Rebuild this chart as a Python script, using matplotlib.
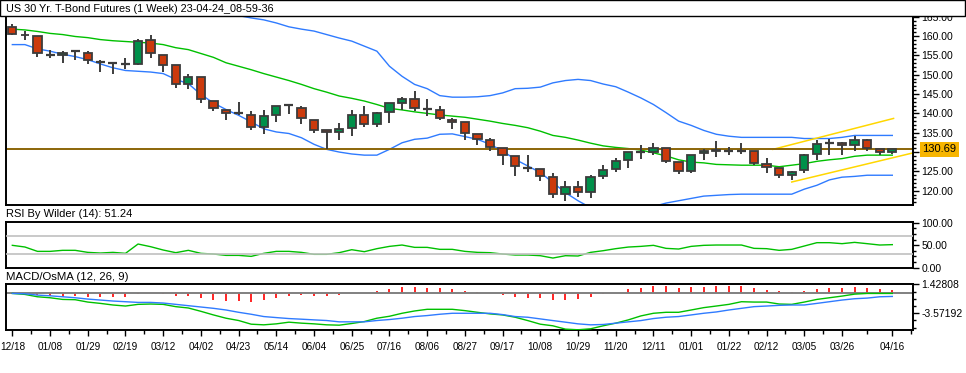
import numpy as np
import matplotlib
matplotlib.use('Agg')
from matplotlib import pyplot as plt
from matplotlib.patches import Rectangle
from matplotlib.ticker import MultipleLocator, FuncFormatter, FixedLocator

plt.rcParams['font.family'] = ['Liberation Sans', 'DejaVu Sans']

title = 'US 30 Yr. T-Bond Futures (1 Week) 23-04-24_08-59-36'
last_price = 130.69

# weekly candles
opens = [162.4, 160.3, 159.9, 155.2, 155.1, 156.1, 155.7, 153.3, 153.0, 152.9,
         152.8, 159.1, 155.2, 152.4, 147.5, 149.5, 143.3, 141.0, 140.0, 139.7,
         136.6, 139.5, 142.1, 141.5, 138.4, 135.6, 135.1, 136.1, 139.5, 137.2,
         140.3, 142.8, 143.6, 141.1, 140.8, 138.4, 137.7, 134.6, 133.0, 131.0,
         128.9, 126.0, 125.5, 123.5, 119.1, 120.9, 119.6, 123.7, 125.5, 127.9,
         129.9, 129.9, 131.0, 127.4, 125.0, 129.7, 130.2, 130.4, 130.4, 130.2,
         126.8, 125.8, 124.0, 125.3, 129.4, 132.3, 132.3, 131.7, 133.0, 130.7,
         129.9]
highs = [163.2, 161.2, 159.9, 156.5, 156.1, 156.4, 156.2, 153.8, 153.1, 154.4,
         159.3, 160.2, 155.2, 152.4, 150.1, 149.5, 143.3, 141.0, 142.9, 140.6,
         140.9, 141.8, 142.1, 141.9, 138.4, 135.6, 137.4, 141.0, 141.9, 140.3,
         142.6, 144.2, 145.8, 143.7, 141.9, 138.7, 137.7, 134.6, 133.6, 131.0,
         128.9, 129.2, 125.5, 124.5, 122.4, 122.4, 124.0, 126.6, 128.4, 129.9,
         131.7, 132.3, 131.0, 127.4, 129.2, 130.7, 132.9, 131.2, 132.3, 130.2,
         128.4, 125.8, 125.0, 129.4, 133.0, 133.3, 132.5, 134.1, 133.3, 130.7,
         130.69]
lows = [160.3, 159.1, 154.6, 154.4, 153.1, 153.9, 152.8, 150.7, 150.3, 151.5,
        152.5, 154.3, 150.7, 146.6, 146.2, 142.7, 140.6, 138.4, 139.6, 135.8,
        134.7, 137.8, 139.9, 137.3, 135.0, 130.7, 133.2, 134.2, 136.6, 136.6,
        137.6, 140.8, 140.5, 139.4, 138.2, 135.9, 133.0, 131.9, 130.4, 126.7,
        123.7, 124.9, 122.6, 118.0, 117.4, 118.4, 118.0, 122.9, 124.9, 126.0,
        128.3, 129.2, 127.1, 124.2, 124.7, 127.9, 128.6, 129.2, 129.4, 126.7,
        124.5, 123.4, 122.7, 124.5, 128.0, 129.2, 129.2, 130.2, 130.4, 129.2,
        129.6]
closes = [160.6, 160.2, 155.5, 155.2, 155.7, 156.1, 153.7, 153.3, 153.0, 152.9,
          158.8, 155.5, 152.6, 147.5, 149.5, 143.6, 141.3, 140.2, 140.0, 136.6,
          139.3, 141.8, 142.1, 138.7, 135.8, 135.1, 135.9, 139.5, 137.2, 140.0,
          142.6, 143.6, 141.5, 141.1, 138.7, 137.9, 134.8, 133.3, 131.2, 129.2,
          126.3, 126.0, 123.7, 119.1, 120.9, 119.6, 123.5, 125.3, 127.6, 129.9,
          129.9, 131.0, 127.6, 125.0, 129.2, 130.2, 130.6, 130.4, 130.4, 127.1,
          126.1, 124.0, 124.8, 129.2, 132.0, 132.3, 131.7, 133.0, 131.0, 129.9,
          130.69]

# bollinger bands (20)
bb_mid = [161.8, 161.6, 161.2, 160.7, 160.4, 159.9, 159.6, 159.1, 158.8, 158.6,
          158.4, 158.2, 157.8, 157.0, 156.5, 155.5, 154.5, 153.1, 152.2, 151.3,
          150.3, 149.4, 148.5, 147.5, 146.4, 145.5, 144.5, 143.9, 143.2, 142.3,
          141.3, 140.9, 140.4, 140.0, 139.6, 139.3, 139.0, 138.5, 138.0, 137.4,
          136.9, 136.3, 135.4, 134.3, 133.8, 133.1, 132.3, 131.6, 131.2, 130.9,
          130.5, 129.8, 129.0, 128.0, 127.4, 127.2, 126.8, 126.7, 126.6, 126.6,
          126.6, 126.2, 126.6, 127.0, 127.6, 128.0, 128.3, 128.9, 129.2, 129.2,
          129.2]
bb_up = [172.5, 172.2, 171.9, 171.5, 171.1, 170.7, 170.3, 169.9, 169.6, 169.3,
         169.0, 168.7, 168.4, 168.0, 167.5, 167.0, 166.5, 166.0, 165.3, 164.7,
         164.2, 163.4, 162.4, 161.8, 161.3, 160.4, 159.5, 158.7, 157.4, 156.1,
         152.2, 149.6, 147.5, 146.4, 144.6, 144.2, 144.2, 144.3, 144.6, 145.3,
         146.4, 146.5, 146.8, 147.9, 148.5, 148.8, 148.5, 147.6, 146.9, 145.5,
         144.0, 142.3, 140.2, 138.0, 136.9, 135.6, 134.6, 134.1, 133.8, 133.8,
         133.8, 133.8, 133.8, 133.5, 133.5, 133.5, 133.8, 134.3, 134.3, 134.3,
         134.3]
bb_low = [157.8, 157.8, 156.7, 156.1, 155.3, 154.7, 153.9, 152.8, 151.8, 151.1,
          150.9, 150.7, 150.3, 148.8, 147.7, 144.9, 142.7, 141.0, 139.5, 137.8,
          136.0, 135.2, 134.8, 133.7, 132.0, 130.7, 130.0, 129.5, 129.2, 129.2,
          130.7, 132.4, 133.3, 133.6, 134.6, 134.7, 134.0, 133.3, 132.0, 130.3,
          128.1, 126.4, 124.7, 122.1, 119.5, 117.4, 115.6, 114.6, 114.2, 114.3,
          115.0, 115.9, 116.8, 117.4, 118.0, 118.6, 118.8, 119.0, 119.1, 119.1,
          119.1, 119.1, 119.1, 120.4, 121.4, 122.8, 123.5, 123.7, 124.0, 124.0,
          124.0]

# channel lines drawn by hand: (bar, price) end points
chan_upper = [(60.5, 130.69), (70.1, 138.7)]
chan_lower = [(62.0, 122.25), (71.67, 129.8)]

rsi = [49.7, 46.0, 36.3, 36.3, 38.6, 38.6, 34.1, 32.6, 34.1, 31.9,
       52.6, 46.7, 39.3, 33.4, 38.6, 31.9, 30.4, 27.4, 27.4, 25.2,
       31.9, 36.3, 36.3, 34.1, 29.7, 29.7, 33.4, 40.0, 35.6, 42.3,
       47.4, 50.4, 45.2, 45.2, 40.8, 40.8, 36.3, 34.1, 33.4, 30.4,
       28.2, 28.2, 26.7, 21.5, 26.7, 26.0, 34.1, 37.8, 42.3, 45.9,
       47.4, 49.7, 43.0, 41.5, 47.4, 49.7, 50.4, 50.4, 50.4, 43.0,
       42.3, 38.6, 40.8, 48.2, 55.6, 55.6, 53.4, 56.3, 53.4, 50.4,
       51.24]

macd = [-0.14, -0.31, -0.72, -0.89, -1.18, -1.23, -1.64, -1.87, -2.15, -2.33,
        -2.04, -1.98, -2.04, -2.44, -2.67, -3.25, -3.88, -4.45, -4.85, -5.49,
        -5.60, -5.43, -5.14, -5.31, -5.43, -5.60, -5.66, -5.37, -5.03, -4.45,
        -4.11, -3.59, -3.19, -2.90, -2.90, -2.90, -3.13, -3.42, -3.70, -3.88,
        -4.28, -4.86, -5.49, -5.77, -6.35, -6.46, -6.29, -5.77, -5.31, -4.74,
        -4.05, -3.59, -3.42, -3.42, -3.02, -2.61, -2.33, -2.04, -1.58, -1.64,
        -1.64, -1.98, -2.04, -1.64, -1.18, -0.89, -0.60, -0.26, -0.14, -0.14,
        -0.14]
signal = [-0.14, -0.20, -0.43, -0.55, -0.72, -0.89, -1.12, -1.29, -1.46, -1.58,
          -1.70, -1.70, -1.81, -2.04, -2.27, -2.50, -2.73, -3.02, -3.42, -3.76,
          -4.16, -4.34, -4.51, -4.62, -4.74, -4.85, -5.08, -5.08, -5.08, -4.85,
          -4.68, -4.45, -4.16, -3.99, -3.76, -3.59, -3.59, -3.59, -3.59, -3.82,
          -4.16, -4.28, -4.57, -4.86, -5.14, -5.43, -5.60, -5.54, -5.31, -5.08,
          -4.86, -4.51, -4.28, -4.16, -3.88, -3.59, -3.36, -3.02, -2.73, -2.44,
          -2.33, -2.21, -2.15, -2.15, -1.87, -1.58, -1.29, -1.06, -0.95, -0.72,
          -0.66]
osma = [0.0, -0.05, -0.43, -0.55, -0.72, -0.60, -0.78, -0.83, -0.83, -0.78,
        -0.32, -0.03, -0.26, -0.60, -0.66, -0.95, -1.29, -1.41, -1.41, -1.58,
        -1.29, -0.95, -0.60, -0.43, -0.60, -0.60, -0.49, -0.03, 0.0, 0.26,
        0.60, 0.95, 0.95, 0.89, 0.78, 0.60, 0.32, 0.10, -0.10, -0.43,
        -0.78, -0.89, -0.95, -1.24, -1.24, -1.06, -0.78, -0.26, 0.0, 0.60,
        0.78, 1.12, 1.12, 0.78, 0.95, 0.95, 1.12, 1.12, 1.12, 0.78,
        0.49, 0.26, 0.05, 0.26, 0.60, 0.78, 0.78, 0.95, 0.78, 0.60,
        0.49]

date_labels = ['12/18', '01/08', '01/29', '02/19', '03/12', '04/02', '04/23', '05/14',
               '06/04', '06/25', '07/16', '08/06', '08/27', '09/17', '10/08', '10/29',
               '11/20', '12/11', '01/01', '01/22', '02/12', '03/05', '03/26', '04/16']
date_pos = list(range(0, 67, 3)) + [70]

W, H = 966, 373
fig = plt.figure(figsize=(W / 100, H / 100), dpi=100)
fig.patch.set_facecolor('white')

def box(l, t, r, b):
    return [l / W, 1 - b / H, (r - l) / W, (b - t) / H]

ax = fig.add_axes(box(6.3, 16, 913.3, 205))
ax_rsi = fig.add_axes(box(6.3, 221.7, 913.3, 268.3))
ax_macd = fig.add_axes(box(6.3, 284.3, 913.3, 330))

x = np.arange(len(closes))
o = np.array(opens); c = np.array(closes)
up = c > o
dn = c < o
doji = ~up & ~dn

red = '#CC3A0C'
grn = '#00904A'
edge = '#3C3C3C'
blue = '#2F7BFF'
lime = '#00C000'

# candles
ax.vlines(x, lows, highs, color=edge, lw=1.4, zorder=3)
ax.bar(x[up], (c - o)[up], bottom=o[up], width=0.66, color=grn, edgecolor=edge, lw=1.3, zorder=4)
ax.bar(x[dn], (o - c)[dn], bottom=c[dn], width=0.66, color=red, edgecolor=edge, lw=1.3, zorder=4)
ax.hlines(c[doji], x[doji] - 0.36, x[doji] + 0.36, color=edge, lw=1.6, zorder=4)

ax.plot(x, bb_mid, color=lime, lw=1.0, zorder=2)
ax.plot(x, bb_up, color=blue, lw=1.0, zorder=2)
ax.plot(x, bb_low, color=blue, lw=1.0, zorder=2)
ax.axhline(last_price, color='#8B6508', lw=1.4, zorder=2.5)
for line in (chan_upper, chan_lower):
    ax.plot([p[0] for p in line], [p[1] for p in line], color='#FFD700', lw=1.1, zorder=2)

ax.set_xlim(-0.48, 71.67)
ax.set_ylim(116.3, 165.2)
ax.yaxis.tick_right()
ax.yaxis.set_major_locator(MultipleLocator(5))
ax.yaxis.set_minor_locator(MultipleLocator(1))
ax.yaxis.set_major_formatter(FuncFormatter(lambda v, p: '' if abs(v - 130) < 0.01 else '%.2f' % v))
ax.tick_params(axis='x', bottom=False, labelbottom=False)
ax.annotate('%.2f' % last_price, xy=(1, last_price), xycoords=('axes fraction', 'data'),
            xytext=(9, 0), textcoords='offset pixels', va='center', ha='left', fontsize=8,
            bbox=dict(boxstyle='square,pad=0.2', fc='#F7B500', ec='none'),
            annotation_clip=False, zorder=20)

# RSI
ax_rsi.plot(x, rsi, color=lime, lw=1.0, zorder=2)
ax_rsi.axhline(70, color='#C0C0C0', lw=1.2, zorder=3)
ax_rsi.axhline(30, color='#C0C0C0', lw=1.2, zorder=3)
ax_rsi.set_xlim(-0.48, 71.67)
ax_rsi.set_ylim(-1.3, 102.2)
ax_rsi.yaxis.tick_right()
ax_rsi.set_yticks([0, 50, 100])
ax_rsi.yaxis.set_minor_locator(MultipleLocator(12.5))
ax_rsi.yaxis.set_major_formatter(FuncFormatter(lambda v, p: '%.2f' % v))
ax_rsi.tick_params(axis='x', bottom=False, labelbottom=False)

# MACD / OsMA
ax_macd.vlines(x, 0, osma, color='#FF0000', lw=1.2, zorder=2)
ax_macd.axhline(0, color='#808080', lw=1.4, zorder=2.5)
ax_macd.plot(x, macd, color=lime, lw=1.0, zorder=3)
ax_macd.plot(x, signal, color=blue, lw=1.0, zorder=3)
ax_macd.set_xlim(-0.48, 71.67)
ax_macd.set_ylim(-6.5, 1.45)
ax_macd.yaxis.tick_right()
ax_macd.set_yticks([1.42808, -3.57192])
ax_macd.yaxis.set_minor_locator(FixedLocator([0.17808, -1.07192, -2.32192, -4.82192, -6.07192]))
ax_macd.yaxis.set_major_formatter(FuncFormatter(lambda v, p: '%.5f' % v))
ax_macd.set_xticks(date_pos)
ax_macd.set_xticklabels(date_labels)
ax_macd.xaxis.set_minor_locator(FixedLocator([p + 1.5 for p in date_pos[:-2]] + [68, 71.5]))

for a in (ax, ax_rsi, ax_macd):
    for s in a.spines.values():
        s.set_linewidth(1.4)
        s.set_color('black')
    a.set_facecolor('white')
    a.tick_params(axis='y', which='major', direction='out', length=4, width=1, pad=2, labelsize=7.5)
    a.tick_params(axis='y', which='minor', direction='out', length=2, width=1)
ax_macd.tick_params(axis='x', which='major', direction='out', length=4, width=1, pad=5, labelsize=7.2)
ax_macd.tick_params(axis='x', which='minor', direction='out', length=3, width=1)

# header strip and panel captions
fig.patches.append(Rectangle((0.2 / W, 1 - 16 / H), 964.5 / W, 15.7 / H, transform=fig.transFigure,
                             fc='white', ec='black', lw=1.0, zorder=10))
fig.text(6 / W, 1 - 8.5 / H, title, fontsize=7.8, va='center', ha='left', zorder=11)
fig.text(6 / W, 1 - 214 / H, 'RSI By Wilder (14): %.2f' % rsi[-1], fontsize=8, va='center', ha='left')
fig.text(6 / W, 1 - 277 / H, 'MACD/OsMA (12, 26, 9)', fontsize=8.2, va='center', ha='left')

plt.savefig('out.png', dpi=100)
